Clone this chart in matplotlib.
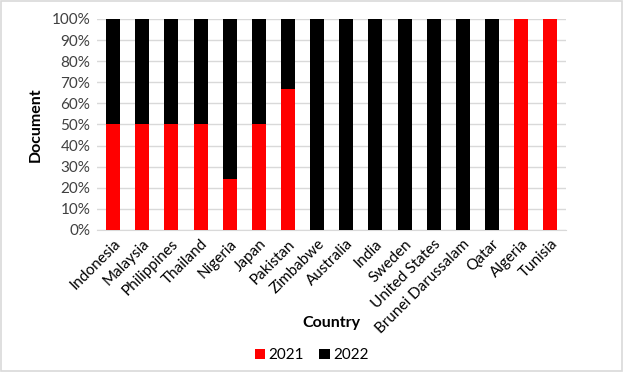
import numpy as np
import matplotlib.pyplot as plt
from matplotlib.patches import Rectangle

plt.rcParams['font.family'] = ['Lato', 'DejaVu Sans']

countries = ["Indonesia", "Malaysia", "Philippines", "Thailand", "Nigeria", "Japan",
             "Pakistan", "Zimbabwe", "Australia", "India", "Sweden", "United States",
             "Brunei Darussalam", "Qatar", "Algeria", "Tunisia"]
share_2021 = [50, 50, 50, 50, 24, 50, 66.7, 0, 0, 0, 0, 0, 0, 0, 100, 100]
share_2022 = [50, 50, 50, 50, 76, 50, 33.3, 100, 100, 100, 100, 100, 100, 100, 0, 0]
yticks = np.arange(0, 101, 10)

fig = plt.figure(figsize=(6.23, 3.72), dpi=100)
fig.patches.append(Rectangle((0.002, 0.003), 0.996, 0.994, transform=fig.transFigure,
                             fill=False, edgecolor="#d9d9d9", linewidth=1.2))
ax = fig.add_axes([0.156, 0.382, 0.753, 0.567])

x = np.arange(len(countries))
ax.bar(x, share_2021, width=0.48, color="#ff0000", label="2021", zorder=3)
ax.bar(x, share_2022, width=0.48, bottom=share_2021, color="#000000", label="2022", zorder=3)

ax.set_ylim(0, 100)
ax.set_xlim(-0.55, len(countries) - 0.45)
ax.set_yticks(yticks)
ax.set_yticklabels([f"{v}%" for v in yticks], fontsize=11, color="#404040")
ax.set_xticks(x)
ax.set_xticklabels(countries, rotation=45, ha="right", rotation_mode="anchor",
                   fontsize=11, color="#000000")
ax.tick_params(length=0, pad=5)
ax.grid(axis="y", color="#d9d9d9", linewidth=1, zorder=0)
for s in ["top", "right", "left"]:
    ax.spines[s].set_visible(False)
ax.spines["bottom"].set_color("#d9d9d9")

ax.set_ylabel("Document", fontsize=11.5, fontweight="bold", labelpad=6)
ax.set_xlabel("Country", fontsize=11.5, fontweight="bold")
ax.xaxis.set_label_coords(0.5, -0.41)

fig.legend(loc="center", bbox_to_anchor=(0.5, 0.045), ncol=2, frameon=False,
           fontsize=11, handlelength=0.7, handleheight=0.7, handletextpad=0.2,
           columnspacing=1.0)

fig.savefig("out.png", dpi=100)
